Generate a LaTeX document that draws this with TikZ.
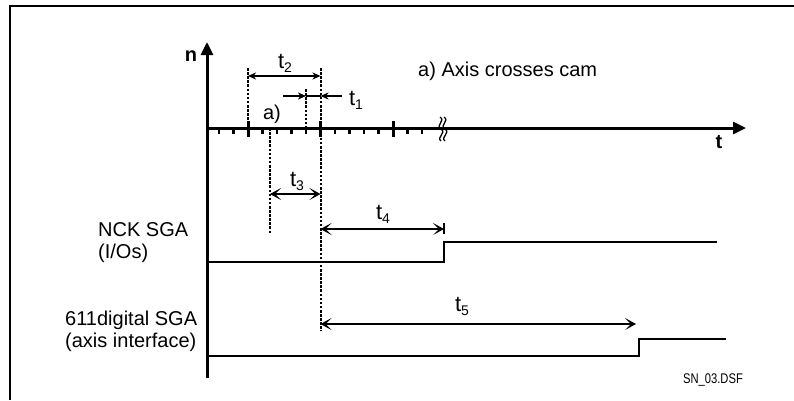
\documentclass[tikz,border=0pt]{standalone}
\usepackage{fontspec}
\setmainfont{Liberation Sans}
\usepackage{graphicx}
\usepackage{tikz}
\usetikzlibrary{arrows.meta,positioning}
\tikzset{
frameline/.style={line width=2.8pt},
axisline/.style={line width=3pt,-{Triangle[length=13pt,width=12pt]}},
ticksmall/.style={line width=2.6pt},
tickbig/.style={line width=3pt},
guide/.style={line width=2pt,dash pattern=on 2.6pt off 1.5pt},
smallarr/.style={line width=1.6pt,-{Stealth[length=8pt,width=7pt,inset=2.5pt]}},
dimarr/.style={line width=1.6pt,{Stealth[length=8pt,width=7pt,inset=2.5pt]}-{Stealth[length=8pt,width=7pt,inset=2.5pt]}},
bigdim/.style={line width=1.2pt,{Stealth[length=11pt,width=12pt,inset=6pt]}-{Stealth[length=11pt,width=12pt,inset=6pt]}},
thinsig/.style={line width=1.2pt},
thicksig/.style={line width=2.2pt},
txt/.style={inner sep=0pt,font=\fontsize{20}{22}\selectfont},
tlab/.style={inner sep=0pt,font=\fontsize{22}{24}\selectfont},
axlab/.style={inner sep=0pt,font=\fontsize{20}{22}\selectfont\bfseries}
}
\newcommand{\tsub}[1]{t\raisebox{-4pt}{\fontsize{14}{14}\selectfont#1}}

\begin{document}
\begin{tikzpicture}[x=1pt,y=-1pt]
\useasboundingbox (0,0) rectangle (794,400);
% frame (top and left edge only)
\draw[frameline] (10,400) -- (10,6) -- (794,6);
% axes
\coordinate (o) at (207,128);
\coordinate (nend) at (207,42);
\coordinate (tend) at (746,128);
\draw[axisline] (207,378) -- (nend);
\draw[axisline] (o) -- (tend);
\node[axlab,anchor=base] (nlab) at (191,61) {n};
\node[axlab,anchor=base] (tlab) at (719,148) {t};
% ticks
\foreach \i in {0,...,14}{
  \pgfmathsetmacro{\xx}{219+14.5*\i}
  \ifnum\i=2 \draw[tickbig] (\xx,121) -- (\xx,137);
  \else\ifnum\i=7 \draw[tickbig] (\xx,121) -- (\xx,137);
  \else\ifnum\i=12 \draw[tickbig] (\xx,121) -- (\xx,137);
  \else \draw[ticksmall] (\xx,128) -- (\xx,134);
  \fi\fi\fi
}
% break mark
\foreach \dx in {0,4}{
  \draw[line width=1.3pt] (440+\dx,117) .. controls (446+\dx,121) and (435+\dx,125) .. (441+\dx,129)
    .. controls (447+\dx,133) and (436+\dx,137) .. (441+\dx,141);
}
% guide lines
\coordinate (g2top) at (248,68);
\coordinate (g2bot) at (248,128);
\coordinate (gctop) at (320.5,68);
\coordinate (gcbot) at (320.5,331);
\coordinate (g1top) at (306,89);
\coordinate (g1bot) at (306,128);
\coordinate (g3top) at (270,128);
\coordinate (g3bot) at (270,234);
\draw[guide] (g2top) -- (g2bot);
\draw[guide] (gctop) -- (gcbot);
\draw[guide] (g1top) -- (g1bot);
\draw[guide] (g3top) -- (g3bot);
% t2
\coordinate (t2a) at (248,76);
\coordinate (t2b) at (320.5,76);
\draw[dimarr] (t2a) -- (t2b);
\node[tlab,anchor=base] (t2lab) at (285,68) {\tsub{2}};
% t1
\coordinate (t1in) at (283,96);
\coordinate (t1l) at (306,96);
\coordinate (t1r) at (320.5,96);
\coordinate (t1out) at (342,96);
\draw[smallarr] (t1in) -- (t1l);
\draw[line width=1.6pt] (t1l) -- (t1r);
\draw[smallarr] (t1out) -- (t1r);
\node[tlab,anchor=base] (t1lab) at (356,105) {\tsub{1}};
\node[txt,anchor=base] (alab) at (272,119) {a)};
\node[txt,anchor=base west] (title) at (418,76) {a) Axis crosses cam};
% t3
\coordinate (t3a) at (270,194);
\coordinate (t3b) at (320.5,194);
\draw[bigdim] (t3a) -- (t3b);
\node[tlab,anchor=base] (t3lab) at (297,186) {\tsub{3}};
% t4
\coordinate (t4a) at (320.5,229);
\coordinate (t4b) at (444,229);
\draw[bigdim] (t4a) -- (t4b);
\draw[line width=1.2pt] (444,223) -- (444,234);
\node[tlab,anchor=base] (t4lab) at (383,219) {\tsub{4}};
% t5
\coordinate (t5a) at (320.5,324);
\coordinate (t5b) at (636,324);
\draw[bigdim] (t5a) -- (t5b);
\node[tlab,anchor=base] (t5lab) at (462,311) {\tsub{5}};
% signals
\draw[thinsig] (207,262) -- (444,262) -- (444,242) -- (717,242);
\draw[thicksig] (207,356) -- (639,356) -- (639,339) -- (726,339);
\node[txt,anchor=base west,align=left] (nck) at (98,258) {NCK SGA\\(I/Os)};
\node[txt,anchor=base west,align=left] (sga) at (65,347) {611digital SGA\\(axis interface)};
\node[inner sep=0pt,anchor=base,font=\fontsize{14}{16}\selectfont] (fname) at (713,383) {\scalebox{0.8}[1]{SN\_03.DSF}};
\end{tikzpicture}
\end{document}
